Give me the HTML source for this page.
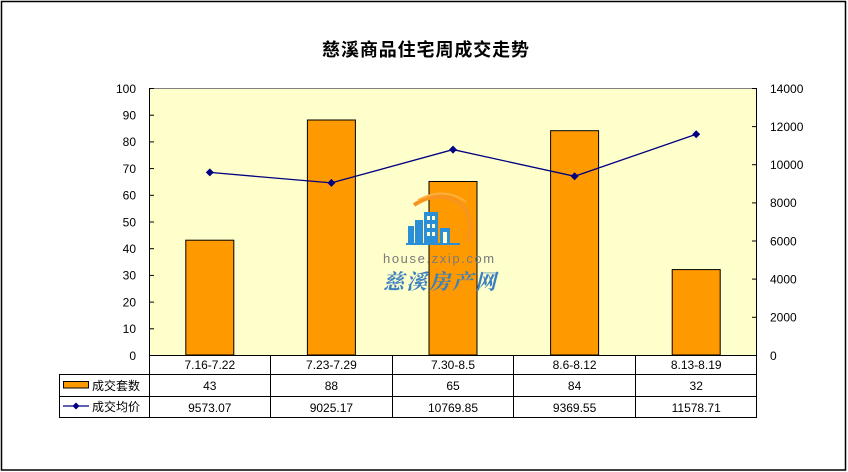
<!DOCTYPE html>
<html><head><meta charset="utf-8"><style>
html,body{margin:0;padding:0;background:#fff;}
svg{display:block;}
text{font-family:"Liberation Sans","Noto Sans CJK SC",sans-serif;}
</style></head><body>
<svg width="848" height="472" viewBox="0 0 848 472" xmlns="http://www.w3.org/2000/svg">
<rect x="0" y="0" width="848" height="472" fill="#fff"/>
<rect x="1.5" y="1.5" width="844" height="468.5" fill="none" stroke="#000" stroke-width="1.5"/>
<text x="426" y="56" text-anchor="middle" font-size="18" font-weight="bold" letter-spacing="0.9" fill="#000">慈溪商品住宅周成交走势</text>
<!-- plot area -->
<rect x="149" y="88" width="608" height="267" fill="#FFFFCC"/>
<line x1="149" y1="88.5" x2="757" y2="88.5" stroke="#808080" stroke-width="1"/>
<!-- bars -->
<g fill="#FF9900" stroke="#000" stroke-width="1">
<rect x="185.8" y="240.2" width="48" height="114.8"/>
<rect x="307.4" y="120.0" width="48" height="235.0"/>
<rect x="429.0" y="181.5" width="48" height="173.5"/>
<rect x="550.6" y="130.7" width="48" height="224.3"/>
<rect x="672.2" y="269.6" width="48" height="85.4"/>
</g>
<!-- watermark -->
<g>
<path d="M414,205 Q440,188 462,205 Q474,218 468,242" fill="none" stroke="#f7941d" stroke-width="4"/>
<path d="M418,200 Q444,186 466,202" fill="none" stroke="#fbb040" stroke-width="2"/>
<rect x="408" y="226" width="6" height="18" fill="#2b8fd8"/>
<rect x="424" y="212" width="14" height="32" fill="#2b8fd8"/>
<rect x="427" y="216" width="3" height="4" fill="#FFFFCC"/><rect x="432" y="216" width="3" height="4" fill="#FFFFCC"/>
<rect x="427" y="224" width="3" height="4" fill="#FFFFCC"/><rect x="432" y="224" width="3" height="4" fill="#FFFFCC"/>
<rect x="427" y="232" width="3" height="4" fill="#FFFFCC"/><rect x="432" y="232" width="3" height="4" fill="#FFFFCC"/>
<rect x="415" y="220" width="8" height="24" fill="#2b8fd8"/>
<rect x="440" y="228" width="10" height="16" fill="#2b8fd8"/>
<rect x="443" y="232" width="4" height="12" fill="#FFFFCC"/>
<rect x="406" y="243" width="54" height="2" fill="#2b8fd8"/>
<text x="383" y="263" font-size="13" fill="#7a7a7a" letter-spacing="1.6">house.zxip.com</text>
<text x="383" y="289" font-size="21" font-style="italic" font-weight="bold" fill="#3a7fc0" letter-spacing="2" style="font-family:'Noto Serif CJK SC','Noto Sans CJK SC',serif">慈溪房产网</text>
</g>
<!-- line -->
<polyline points="209.8,172.4 331.4,182.9 453,149.6 574.6,176.3 696.2,134.2" fill="none" stroke="#000080" stroke-width="1.3"/>
<g fill="#000080">
<path d="M209.8,168.4 l4,4 l-4,4 l-4,-4z"/>
<path d="M331.4,178.9 l4,4 l-4,4 l-4,-4z"/>
<path d="M453,145.6 l4,4 l-4,4 l-4,-4z"/>
<path d="M574.6,172.3 l4,4 l-4,4 l-4,-4z"/>
<path d="M696.2,130.2 l4,4 l-4,4 l-4,-4z"/>
</g>
<!-- axes -->
<g stroke="#000" stroke-width="1">
<line x1="149.5" y1="88" x2="149.5" y2="418"/>
<line x1="756.5" y1="88" x2="756.5" y2="418"/>
<line x1="149" y1="355.5" x2="757" y2="355.5"/>
<line x1="59" y1="374.5" x2="757" y2="374.5"/>
<line x1="59" y1="396.5" x2="757" y2="396.5"/>
<line x1="59" y1="417.5" x2="757" y2="417.5"/>
<line x1="59.5" y1="374" x2="59.5" y2="418"/>
<line x1="270.5" y1="355" x2="270.5" y2="418"/>
<line x1="392.5" y1="355" x2="392.5" y2="418"/>
<line x1="513.5" y1="355" x2="513.5" y2="418"/>
<line x1="635.5" y1="355" x2="635.5" y2="418"/>
<!-- left ticks -->
<line x1="149" y1="88.5" x2="154" y2="88.5"/>
<line x1="149" y1="115.2" x2="154" y2="115.2"/>
<line x1="149" y1="141.9" x2="154" y2="141.9"/>
<line x1="149" y1="168.6" x2="154" y2="168.6"/>
<line x1="149" y1="195.3" x2="154" y2="195.3"/>
<line x1="149" y1="222.0" x2="154" y2="222.0"/>
<line x1="149" y1="248.7" x2="154" y2="248.7"/>
<line x1="149" y1="275.4" x2="154" y2="275.4"/>
<line x1="149" y1="302.1" x2="154" y2="302.1"/>
<line x1="149" y1="328.8" x2="154" y2="328.8"/>
<!-- right ticks -->
<line x1="752" y1="88.5" x2="757" y2="88.5"/>
<line x1="752" y1="126.6" x2="757" y2="126.6"/>
<line x1="752" y1="164.7" x2="757" y2="164.7"/>
<line x1="752" y1="202.9" x2="757" y2="202.9"/>
<line x1="752" y1="241.0" x2="757" y2="241.0"/>
<line x1="752" y1="279.1" x2="757" y2="279.1"/>
<line x1="752" y1="317.3" x2="757" y2="317.3"/>
</g>
<!-- left labels -->
<g font-size="12" fill="#000" text-anchor="end">
<text x="136" y="93">100</text>
<text x="136" y="119.5">90</text>
<text x="136" y="146.2">80</text>
<text x="136" y="172.9">70</text>
<text x="136" y="199.6">60</text>
<text x="136" y="226.3">50</text>
<text x="136" y="253">40</text>
<text x="136" y="279.7">30</text>
<text x="136" y="306.4">20</text>
<text x="136" y="333.1">10</text>
<text x="136" y="359.8">0</text>
</g>
<!-- right labels -->
<g font-size="12" fill="#000">
<text x="770" y="93">14000</text>
<text x="770" y="131">12000</text>
<text x="770" y="169.1">10000</text>
<text x="770" y="207.2">8000</text>
<text x="770" y="245.3">6000</text>
<text x="770" y="283.4">4000</text>
<text x="770" y="321.6">2000</text>
<text x="770" y="359.8">0</text>
</g>
<!-- table -->
<g font-size="12" fill="#000" text-anchor="middle">
<text x="209.8" y="369">7.16-7.22</text>
<text x="331.4" y="369">7.23-7.29</text>
<text x="453" y="369">7.30-8.5</text>
<text x="574.6" y="369">8.6-8.12</text>
<text x="696.2" y="369">8.13-8.19</text>
<text x="209.8" y="390">43</text>
<text x="331.4" y="390">88</text>
<text x="453" y="390">65</text>
<text x="574.6" y="390">84</text>
<text x="696.2" y="390">32</text>
<text x="209.8" y="412">9573.07</text>
<text x="331.4" y="412">9025.17</text>
<text x="453" y="412">10769.85</text>
<text x="574.6" y="412">9369.55</text>
<text x="696.2" y="412">11578.71</text>
</g>
<rect x="63.5" y="381.5" width="25" height="6.5" fill="#FF9900" stroke="#000" stroke-width="1"/>
<line x1="63" y1="406" x2="89" y2="406" stroke="#000080" stroke-width="1.3"/>
<path d="M76,402.5 l3.5,3.5 l-3.5,3.5 l-3.5,-3.5z" fill="#000080"/>
<g font-size="12" fill="#000">
<text x="92" y="390">成交套数</text>
<text x="92" y="411">成交均价</text>
</g>
</svg>
</body></html>
